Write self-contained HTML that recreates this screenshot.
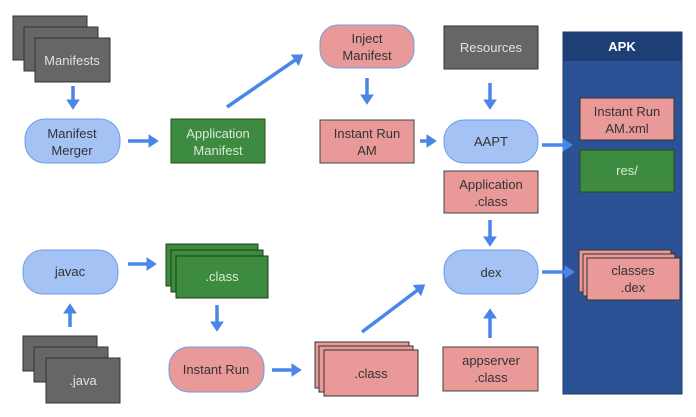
<!DOCTYPE html>
<html><head><meta charset="utf-8"><style>
html,body{margin:0;padding:0;background:#fff;}
svg{display:block;}
text{font-family:"Liberation Sans",sans-serif;font-size:13px;text-anchor:middle;}
</style></head><body>
<svg width="696" height="417" viewBox="0 0 696 417" xmlns="http://www.w3.org/2000/svg">
<defs>
<marker id="ah" markerWidth="4" markerHeight="4" refX="2.2" refY="2" orient="auto" markerUnits="strokeWidth">
<path d="M0,0 L3,2 L0,4 z" fill="#4a86e8"/></marker>
</defs>
<!-- Manifests stack -->
<g fill="#666" stroke="#333" stroke-width="1">
<rect x="13" y="16" width="74" height="44"/><rect x="24" y="27" width="74" height="44"/><rect x="35" y="38" width="75" height="44"/>
</g>
<text x="72" y="65" fill="#e0e0e0">Manifests</text>
<rect x="25" y="119" width="95" height="44" rx="20" fill="#a4c2f4" stroke="#6d9eeb"/>
<text x="72" y="138" fill="#333">Manifest</text><text x="72" y="155" fill="#333">Merger</text>
<rect x="171" y="119" width="94" height="44" fill="#3d8b40" stroke="#274e13"/>
<text x="218" y="138" fill="#d9ead3">Application</text><text x="218" y="155" fill="#d9ead3">Manifest</text>
<rect x="320" y="25" width="94" height="43" rx="18" fill="#ea9999" stroke="#6d9eeb"/>
<text x="367" y="43" fill="#333">Inject</text><text x="367" y="60" fill="#333">Manifest</text>
<rect x="320" y="120" width="94" height="43" fill="#ea9999" stroke="#444"/>
<text x="367" y="138" fill="#333">Instant Run</text><text x="367" y="155" fill="#333">AM</text>
<rect x="444" y="26" width="94" height="43" fill="#666" stroke="#333"/>
<text x="491" y="52" fill="#e0e0e0">Resources</text>
<rect x="444" y="120" width="94" height="43" rx="20" fill="#a4c2f4" stroke="#6d9eeb"/>
<text x="491" y="146" fill="#333">AAPT</text>
<rect x="444" y="171" width="94" height="42" fill="#ea9999" stroke="#444"/>
<text x="491" y="189" fill="#333">Application</text><text x="491" y="206" fill="#333">.class</text>
<rect x="444" y="250" width="94" height="44" rx="20" fill="#a4c2f4" stroke="#6d9eeb"/>
<text x="491" y="277" fill="#333">dex</text>
<rect x="443" y="347" width="95" height="44" fill="#ea9999" stroke="#444"/>
<text x="491" y="365" fill="#333">appserver</text><text x="491" y="382" fill="#333">.class</text>
<!-- APK -->
<rect x="563" y="32" width="119" height="362" fill="#2a5294" stroke="#1c3a6b"/>
<rect x="563" y="32" width="119" height="29" fill="#1d3f75"/>
<text x="622" y="51" fill="#fff" font-weight="bold">APK</text>
<rect x="580" y="98" width="94" height="42" fill="#ea9999" stroke="#333"/>
<text x="627" y="116" fill="#333">Instant Run</text><text x="627" y="133" fill="#333">AM.xml</text>
<rect x="580" y="150" width="94" height="42" fill="#3d8b40" stroke="#274e13"/>
<text x="627" y="175" fill="#d9ead3">res/</text>
<g fill="#ea9999" stroke="#333">
<rect x="579" y="250" width="92" height="42"/><rect x="583" y="254" width="92" height="42"/><rect x="587" y="258" width="93" height="42"/>
</g>
<text x="633" y="275" fill="#333">classes</text><text x="633" y="292" fill="#333">.dex</text>
<!-- javac -->
<rect x="23" y="250" width="95" height="44" rx="20" fill="#a4c2f4" stroke="#6d9eeb"/>
<text x="70" y="276" fill="#333">javac</text>
<g fill="#3d8b40" stroke="#1f3d10">
<rect x="166" y="244" width="92" height="42"/><rect x="171" y="250" width="92" height="42"/><rect x="176" y="256" width="92" height="42"/>
</g>
<text x="222" y="281" fill="#d9ead3">.class</text>
<g fill="#666" stroke="#333">
<rect x="23" y="336" width="74" height="35"/><rect x="34" y="347" width="74" height="35"/><rect x="46" y="358" width="74" height="45"/>
</g>
<text x="83" y="385" fill="#e0e0e0">.java</text>
<rect x="169" y="347" width="95" height="45" rx="20" fill="#ea9999" stroke="#6d9eeb"/>
<text x="216" y="374" fill="#333">Instant Run</text>
<g fill="#ea9999" stroke="#333">
<rect x="315" y="342" width="94" height="46"/><rect x="319" y="346" width="94" height="46"/><rect x="324" y="350" width="94" height="46"/>
</g>
<text x="371" y="378" fill="#333">.class</text>
<g stroke="#4a86e8" stroke-width="3.5" marker-end="url(#ah)" fill="none">
<line x1="73" y1="86" x2="73" y2="107"/>
<line x1="128" y1="141" x2="156" y2="141"/>
<line x1="227" y1="107" x2="301" y2="56"/>
<line x1="367" y1="78" x2="367" y2="102"/>
<line x1="420" y1="141" x2="434" y2="141"/>
<line x1="490" y1="83" x2="490" y2="107"/>
<line x1="542" y1="145" x2="570" y2="145"/>
<line x1="490" y1="220" x2="490" y2="244"/>
<line x1="128" y1="264" x2="154" y2="264"/>
<line x1="217" y1="305" x2="217" y2="329"/>
<line x1="70" y1="327" x2="70" y2="306"/>
<line x1="272" y1="370" x2="299" y2="370"/>
<line x1="362" y1="332" x2="423" y2="286"/>
<line x1="490" y1="338" x2="490" y2="311"/>
<line x1="542" y1="272" x2="572" y2="272"/>
</g>
</svg>
</body></html>
